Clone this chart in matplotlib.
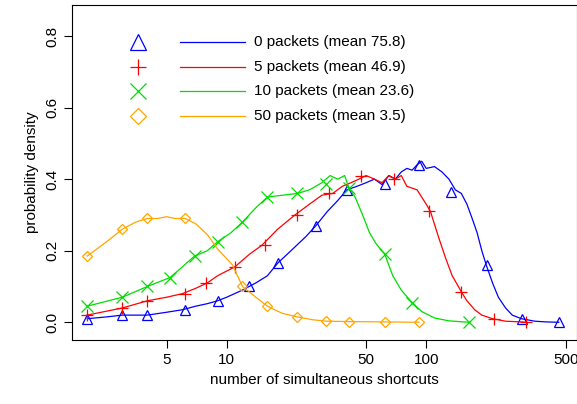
import matplotlib
matplotlib.use("Agg")
import matplotlib.pyplot as plt
plt.rcParams['font.family'] = ['Liberation Sans', 'DejaVu Sans']

# line data
blue_x = [2,2.5,3,3.5,4,5,6,7,8,9,10,12,14,16,18,21,25,28,32,36,40,45,50,55,60,65,70,75,80,85,90,95,100,110,120,130,140,150,160,170,180,190,200,215,230,250,270,300,350,400,462]
blue_y = [0.01,0.015,0.02,0.02,0.02,0.028,0.035,0.045,0.052,0.06,0.07,0.09,0.11,0.13,0.165,0.2,0.24,0.27,0.31,0.34,0.37,0.38,0.39,0.40,0.385,0.41,0.40,0.42,0.43,0.425,0.44,0.45,0.43,0.435,0.42,0.40,0.37,0.36,0.33,0.29,0.25,0.2,0.16,0.11,0.07,0.04,0.02,0.01,0.003,0.001,0.0]
blue_mx = [2,3,4,6.2,9,13,18,28,40,62,92,133,202,302,462]
blue_my = [0.01,0.02,0.02,0.035,0.06,0.1,0.165,0.27,0.37,0.385,0.44,0.365,0.16,0.01,0.0]

red_x = [2,3,4,5,6,7,8,9,11,13,15,18,22,26,30,34,38,42,46,50,55,60,65,70,75,80,90,100,105,115,125,135,145,150,160,175,190,215,250,300,320]
red_y = [0.02,0.04,0.06,0.07,0.08,0.095,0.11,0.13,0.155,0.19,0.215,0.26,0.3,0.33,0.355,0.36,0.38,0.39,0.40,0.41,0.40,0.39,0.41,0.40,0.41,0.38,0.37,0.33,0.31,0.24,0.18,0.13,0.1,0.085,0.06,0.035,0.02,0.01,0.003,0.001,0.0]
red_mx = [2,3,4,6.2,7.9,11,15.5,22.6,32.6,47,69,103,150,218,316]
red_my = [0.02,0.04,0.06,0.08,0.11,0.155,0.215,0.3,0.36,0.41,0.4,0.31,0.085,0.01,0.0]

green_x = [2,3,4,5.2,6,6.9,8,9,10.5,12,14,16,19,22.6,26,30,33,36,39,41,44,48,52,56,62,68,75,85,95,110,130,163]
green_y = [0.045,0.07,0.1,0.125,0.155,0.185,0.2,0.225,0.25,0.28,0.32,0.35,0.355,0.36,0.37,0.39,0.41,0.40,0.41,0.375,0.35,0.3,0.25,0.22,0.19,0.13,0.09,0.055,0.03,0.012,0.004,0.0]
green_mx = [2,3,4,5.2,6.9,9,12,16,22.6,31.6,41,62,85,163]
green_my = [0.045,0.07,0.1,0.125,0.185,0.225,0.28,0.35,0.36,0.385,0.375,0.19,0.055,0.0]

orange_x = [2,2.5,3,3.5,4,4.5,5,5.5,6.2,7,8,9,10.7,12,14,16,19,22.6,27,31.6,41,62,92]
orange_y = [0.185,0.225,0.26,0.28,0.29,0.29,0.295,0.29,0.29,0.275,0.245,0.205,0.16,0.1,0.07,0.045,0.025,0.015,0.007,0.003,0.002,0.001,0.0]
orange_mx = [2,3,4,6.2,12,16,22.6,31.6,41,62,92]
orange_my = [0.185,0.26,0.29,0.29,0.1,0.045,0.015,0.003,0.002,0.001,0.0]

labels = ["0 packets (mean 75.8)", "5 packets (mean 46.9)", "10 packets (mean 23.6)", "50 packets (mean 3.5)"]
colors = ["#0000ff", "#ff0000", "#00dd00", "#ffa500"]
markers = ["^", "+", "x", "D"]

fig = plt.figure(figsize=(5.77, 4.04), dpi=100)
ax = fig.add_axes([0.125, 0.158, 0.875, 0.83])
series = [(blue_x, blue_y, blue_mx, blue_my), (red_x, red_y, red_mx, red_my),
          (green_x, green_y, green_mx, green_my), (orange_x, orange_y, orange_mx, orange_my)]
for (lx, ly, mx, my), c, m in zip(series, colors, markers):
    ax.plot(lx, ly, color=c, lw=0.9)
    if m == "^":
        ax.plot(mx, my, ls='none', marker=m, mfc='none', mec=c, ms=7, mew=0.9)
    elif m == "D":
        ax.plot(mx, my, ls='none', marker=m, mfc='none', mec=c, ms=5.5, mew=0.9)
    else:
        ax.plot(mx, my, ls='none', marker=m, color=c, ms=8, mew=0.9)

ax.set_xscale('log')
ax.set_xlim(1.68, 570)
ax.set_ylim(-0.05, 0.887)
ax.set_xticks([5, 10, 50, 100, 500])
ax.set_xticklabels(["5", "10", "50", "100", "500"])
ax.xaxis.set_minor_locator(matplotlib.ticker.NullLocator())
ax.set_yticks([0.0, 0.2, 0.4, 0.6, 0.8])
ax.set_yticklabels(["0.0", "0.2", "0.4", "0.6", "0.8"], rotation=90, va='center')
ax.tick_params(labelsize=11, length=6)
ax.set_xlabel("number of simultaneous shortcuts", fontsize=11)
ax.set_ylabel("probability density", fontsize=11)

# legend
for i, (c, m, lab) in enumerate(zip(colors, markers, labels)):
    yy = 0.89 - i * 0.074
    kw = dict(mfc='none', mec=c, mew=0.9) if m in "^D" else dict(color=c, mew=0.9)
    ms = 11 if m == "^" else (8 if m == "D" else 11)
    ax.plot([0.13], [yy], transform=ax.transAxes, marker=m, ms=ms, ls='none', **kw)
    ax.plot([0.214, 0.343], [yy, yy], transform=ax.transAxes, color=c, lw=0.9)
    ax.text(0.36, yy, lab, transform=ax.transAxes, va='center', fontsize=11)

fig.savefig("out.png", dpi=100)
